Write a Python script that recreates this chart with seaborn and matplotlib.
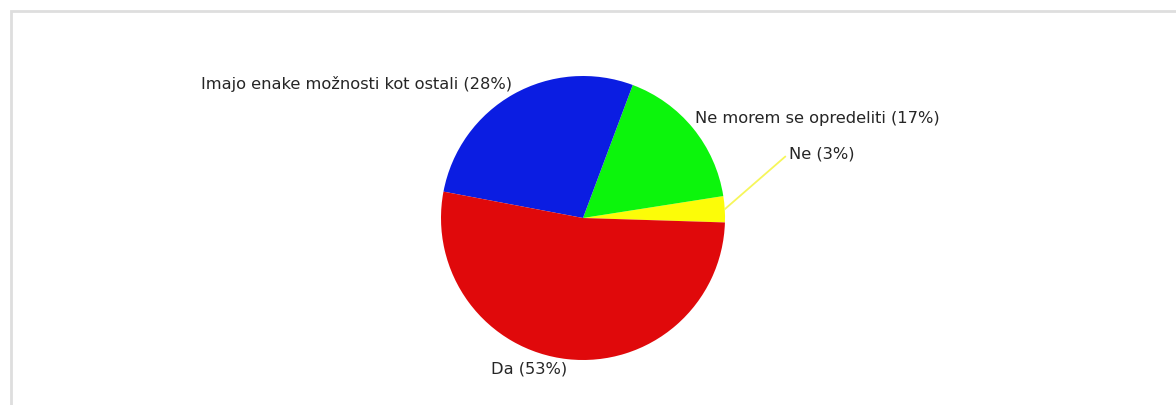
import numpy as np
import matplotlib
matplotlib.use("Agg")
import matplotlib.pyplot as plt
import seaborn as sns
from matplotlib.patches import Rectangle

# Data
categories = ["Ne", "Ne morem se opredeliti", "Imajo enake možnosti kot ostali", "Da"]
percents = [3, 17, 28, 53]
colors = ["#fcfc08", "#0cf50c", "#0b1de2", "#e0090b"]

sns.set_theme(style="white")
plt.rcParams["font.family"] = ["DejaVu Sans"]

W, H = 1176, 405
fig = plt.figure(figsize=(W / 100, H / 100), dpi=100)
fig.patch.set_facecolor("white")

cx, cy, r = 583, 218, 142
ax = fig.add_axes([(cx - r) / W, (H - cy - r) / H, 2 * r / W, 2 * r / H])

wedges, _ = ax.pie(percents, colors=colors, startangle=-1.8, counterclock=True,
                   radius=1, wedgeprops=dict(linewidth=0))
ax.set_xlim(-1, 1)
ax.set_ylim(-1, 1)
ax.set_aspect("equal")
ax.axis("off")

txt_color = "#262626"
fs = 11.7
for w, cat, p in zip(wedges, categories, percents):
    mid = np.deg2rad((w.theta1 + w.theta2) / 2)
    ex, ey = np.cos(mid), np.sin(mid)
    label = f"{cat} ({p}%)"
    if p < 5:
        ax.annotate(label, xy=(ex, ey), xytext=(46, 40), textcoords="offset points",
                    ha="left", va="center", fontsize=fs, color=txt_color,
                    arrowprops=dict(arrowstyle="-", color="#f6f65a", lw=1.3,
                                    shrinkA=0, shrinkB=0, relpos=(0, 0.5)),
                    annotation_clip=False)
    else:
        rr = 1.02
        ha = "left" if ex > 0 else "right"
        va = "bottom" if ey > 0 else "top"
        ax.text(rr * ex, rr * ey, label, ha=ha, va=va, fontsize=fs, color=txt_color,
                clip_on=False)

# light frame border
fig.add_artist(Rectangle((11 / W, -0.2), 1.2, (1 - 11 / H) + 0.2,
                         transform=fig.transFigure, fill=False,
                         ec="#dedede", lw=2))

fig.savefig("out.png", dpi=100)
